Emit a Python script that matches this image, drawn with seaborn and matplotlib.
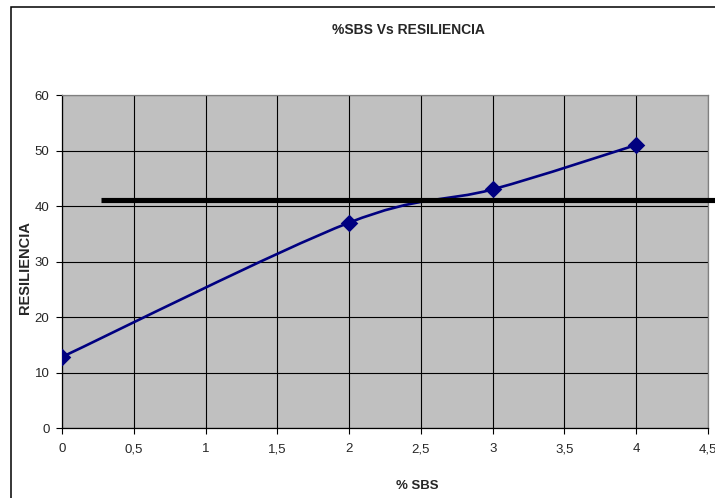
import numpy as np
import matplotlib
matplotlib.use("Agg")
from matplotlib import pyplot as plt
from matplotlib.path import Path
from matplotlib.patches import PathPatch, Rectangle
import seaborn as sns

# datos
sbs = [0, 2, 3, 4]
resiliencia = [12.8, 37, 43, 51]
xticks = [0, 0.5, 1, 1.5, 2, 2.5, 3, 3.5, 4, 4.5]
xticklabels = ["0", "0,5", "1", "1,5", "2", "2,5", "3", "3,5", "4", "4,5"]
yticks = [0, 10, 20, 30, 40, 50, 60]
ref_value = 41.1
ref_start = 0.27

sns.set_style("white")
plt.rcParams['font.family'] = ['Liberation Sans', 'DejaVu Sans']

W, H = 715, 498
fig = plt.figure(figsize=(W / 100, H / 100), dpi=100)
ax = fig.add_axes([62 / W, 1 - 428 / H, (708 - 62) / W, (428 - 95) / H])
ax.set_facecolor("#c0c0c0")

# linea suavizada (bezier como excel)
pts = np.column_stack([sbs, resiliencia]).astype(float)
n = len(pts)
verts = [pts[0]]
codes = [Path.MOVETO]
for i in range(n - 1):
    p_prev = pts[i - 1] if i > 0 else pts[i]
    p_next2 = pts[i + 2] if i + 2 < n else pts[i + 1]
    c1 = pts[i] + (pts[i + 1] - p_prev) / 6
    c2 = pts[i + 1] - (p_next2 - pts[i]) / 6
    verts += [c1, c2, pts[i + 1]]
    codes += [Path.CURVE4] * 3
ax.add_patch(PathPatch(Path(verts, codes), fill=False, edgecolor="#000080",
                       lw=1.9, zorder=3))

sns.scatterplot(x=sbs, y=resiliencia, marker="D", s=80, color="#000080",
                edgecolor="#000080", linewidth=0, ax=ax, zorder=4)

# linea de referencia
ax.plot([ref_start, 4.8], [ref_value, ref_value], color="black", lw=3.7,
        solid_capstyle="butt", clip_on=False, zorder=5)

ax.set_xlim(0, 4.5)
ax.set_ylim(0, 60)
ax.set_xticks(xticks)
ax.set_xticklabels(xticklabels)
ax.set_yticks(yticks)
ax.grid(True, color="black", lw=0.8)
ax.set_axisbelow(True)
ax.tick_params(axis="both", which="major", labelsize=9.5, length=4, width=0.8,
               color="black", direction="out", bottom=True, left=True)
ax.tick_params(axis="x", pad=7)
ax.tick_params(axis="y", pad=5)
for side in ["left", "bottom"]:
    ax.spines[side].set_color("black")
    ax.spines[side].set_linewidth(0.9)
for side in ["top", "right"]:
    ax.spines[side].set_color("#808080")
    ax.spines[side].set_linewidth(0.9)

fig.text(408 / W, 1 - 30 / H, "%SBS Vs RESILIENCIA", ha="center", va="center",
         fontsize=10, fontweight="bold")
fig.text(417 / W, 1 - 486 / H, "% SBS", ha="center", va="center",
         fontsize=9.5, fontweight="bold")
fig.text(25 / W, 1 - 267 / H, "RESILIENCIA", ha="center", va="center",
         rotation=90, fontsize=10.5, fontweight="bold")

# borde del area del grafico
fig.patches.append(Rectangle((11 / W, -0.1), 1.2, 1 - 7 / H + 0.1,
                             transform=fig.transFigure, fill=False,
                             edgecolor="black", lw=1.1))

fig.savefig("out.png", dpi=100)
